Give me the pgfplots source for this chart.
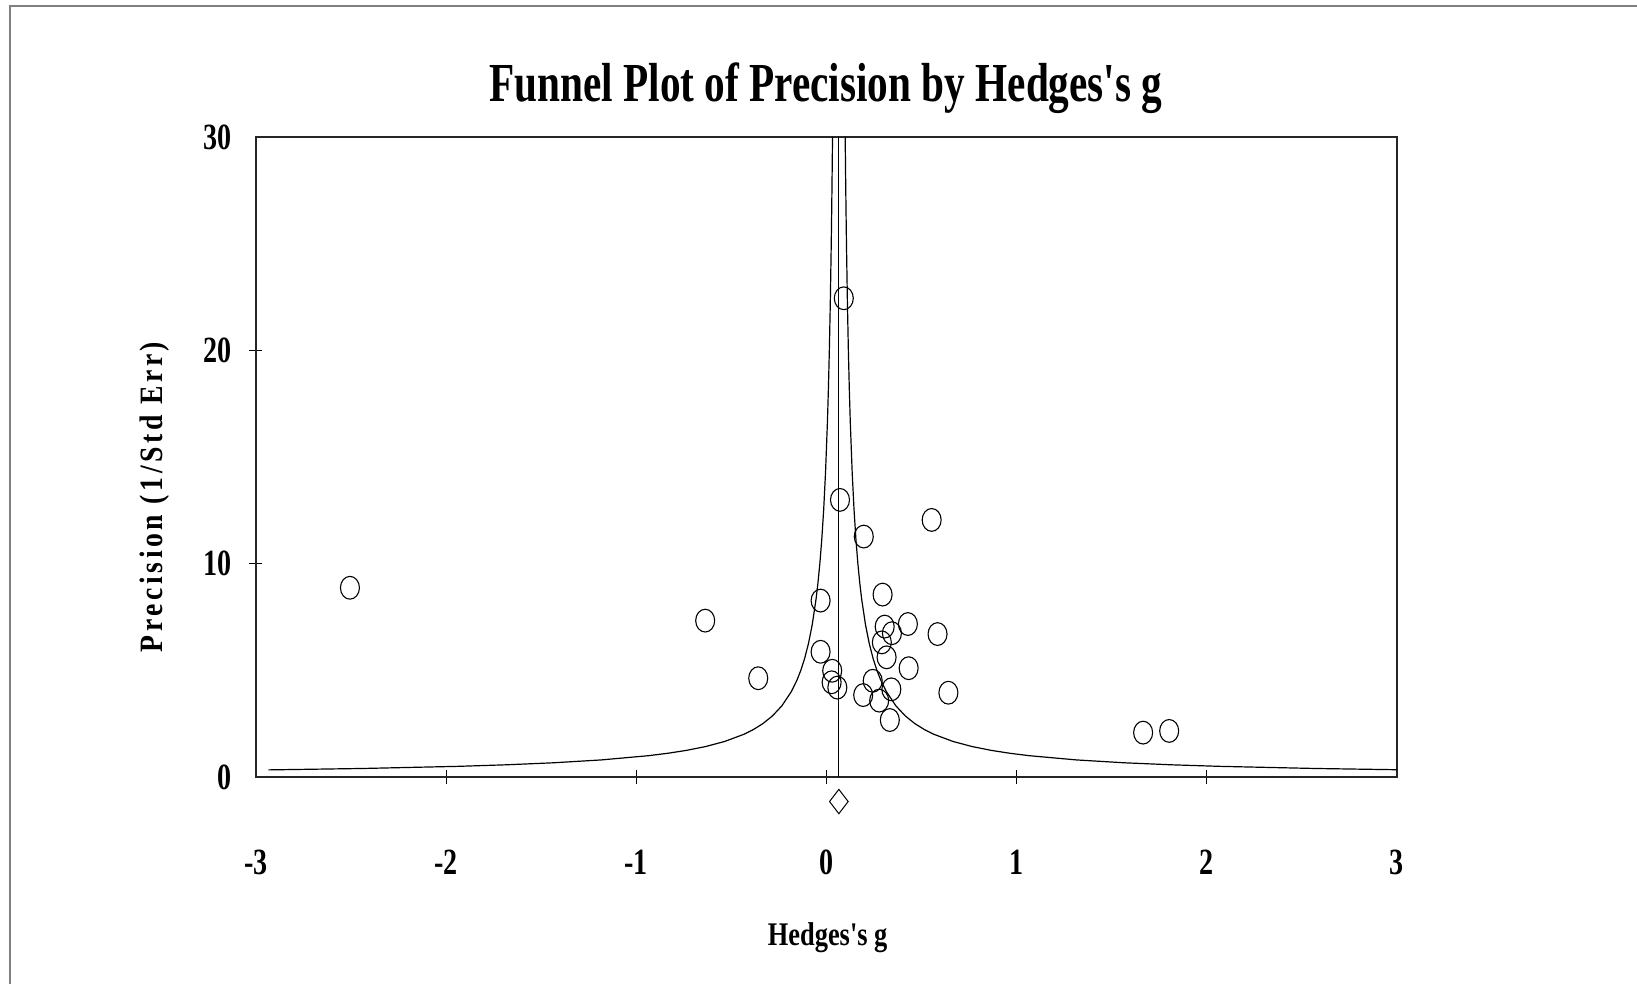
\documentclass[border=0pt]{standalone}
\usepackage{fontspec}
\usepackage{pgfplots}
\pgfplotsset{compat=1.18}
\newfontfamily\lblfont{Liberation Serif}[FakeStretch=0.76]
\newfontfamily\xlabfont{Liberation Serif}[FakeStretch=0.8]
\newfontfamily\titlefont{Liberation Serif}[FakeStretch=0.75]
\newfontfamily\ylabfont{Liberation Serif}[FakeStretch=0.85,LetterSpace=11]
\definecolor{framegray}{HTML}{808080}
\begin{document}
\begin{tikzpicture}
\useasboundingbox (-128pt,-103.5pt) rectangle (690.5pt,388.5pt);
\draw[line width=1pt, color=framegray] (-123pt,-110pt) -- (-123pt,385.5pt) -- (700pt,385.5pt);
\begin{axis}[
  at={(0,0)}, anchor=south west,
  scale only axis, width=570.5pt, height=320pt,
  xmin=-3, xmax=3, ymin=0, ymax=30,
  clip=false,
  axis line style={line width=0.7pt, black!85},
  xtick={-2,-1,0,1,2}, xticklabels={-2,-1,0,1,2},
  extra x ticks={-3,3}, extra x tick labels={-3,3},
  extra x tick style={tick style={draw=none}},
  ytick={10,20}, yticklabels={10,20},
  extra y ticks={0,30}, extra y tick labels={0,30},
  extra y tick style={tick style={draw=none}},
  xtick pos=bottom, ytick pos=left,
  tick align=center, major tick length=6.5pt,
  tick style={black, line width=0.5pt},
  xticklabel style={font=\lblfont\bfseries\fontsize{18.5}{18.5}\selectfont, anchor=center, yshift=-39.5pt},
  yticklabel style={font=\lblfont\bfseries\fontsize{18.5}{18.5}\selectfont, anchor=east, inner sep=0pt, xshift=-8.9pt},
  xlabel={Hedges's g},
  ylabel={Precision (1/Std Err)},
  every axis x label/.style={at={(axis description cs:0.501,-0.2508)}, anchor=center, font=\xlabfont\bfseries\fontsize{16.5}{16.5}\selectfont},
  every axis y label/.style={at={(axis description cs:-0.089,0.4375)}, rotate=90, anchor=center, font=\ylabfont\bfseries\fontsize{16.3}{16.3}\selectfont},
  title={Funnel Plot of Precision by Hedges's g},
  every axis title/.style={at={(axis description cs:0.4995,1.077)}, anchor=center, font=\titlefont\bfseries\fontsize{27.5}{27.5}\selectfont},
]
% left funnel line
\addplot[black, line width=0.6pt] coordinates {
(-2.935,0.3333) (-2.435,0.4) (-1.935,0.5) (-1.685,0.5714) (-1.435,0.6667)
(-1.185,0.8) (-0.935,1.0) (-0.835,1.1111) (-0.735,1.25) (-0.635,1.4286)
(-0.535,1.6667) (-0.435,2.0) (-0.385,2.2222) (-0.335,2.5) (-0.285,2.8571)
(-0.235,3.3333) (-0.185,4.0) (-0.155,4.5455) (-0.135,5.0) (-0.115,5.5556)
(-0.095,6.25) (-0.075,7.1429) (-0.055,8.3333) (-0.045,9.0909) (-0.035,10)
(-0.025,11.1111) (-0.015,12.5) (-0.005,14.2857) (0.005,16.6667) (0.010,18.1818)
(0.015,20) (0.020,22.2222) (0.025,25) (0.0275,26.6667) (0.030,28.5714) (0.0317,30)
};
% right funnel line
\addplot[black, line width=0.6pt] coordinates {
(0.0983,30) (0.100,28.5714) (0.1025,26.6667) (0.105,25) (0.110,22.2222)
(0.115,20) (0.120,18.1818) (0.125,16.6667) (0.135,14.2857) (0.145,12.5)
(0.155,11.1111) (0.165,10) (0.175,9.0909) (0.185,8.3333) (0.205,7.1429)
(0.225,6.25) (0.245,5.5556) (0.265,5.0) (0.285,4.5455) (0.315,4.0)
(0.365,3.3333) (0.415,2.8571) (0.465,2.5) (0.515,2.2222) (0.565,2.0)
(0.665,1.6667) (0.765,1.4286) (0.865,1.25) (0.965,1.1111) (1.065,1.0)
(1.315,0.8) (1.565,0.6667) (1.815,0.5714) (2.065,0.5) (2.565,0.4) (3.0,0.3407)
};
% combined effect line
\addplot[black, line width=0.5pt] coordinates {(0.065,0) (0.065,30)};
% studies
\addplot[only marks, mark=o, mark size=4.75pt, mark options={yscale=1.2, line width=0.55pt, black}] coordinates {
(0.071,12.99) (0.196,11.27) (0.553,12.05) (-0.031,8.27) (0.295,8.55)
(-0.638,7.33) (0.306,7.05) (0.344,6.74) (0.428,7.17) (0.584,6.70)
(0.291,6.31) (0.316,5.61) (-0.031,5.87) (0.432,5.10) (0.030,4.98)
(-0.359,4.63) (0.027,4.44) (0.057,4.19) (0.243,4.51) (0.341,4.11)
(0.193,3.84) (0.277,3.58) (0.641,3.95) (0.333,2.67) (0.091,22.44)
(-2.506,8.87) (1.665,2.08) (1.802,2.16)
};
% combined effect diamond
\addplot[black, line width=0.5pt] coordinates {
(0.016,-1.15) (0.065,-0.58) (0.114,-1.15) (0.065,-1.72) (0.016,-1.15)
};
\end{axis}
\end{tikzpicture}
\end{document}
